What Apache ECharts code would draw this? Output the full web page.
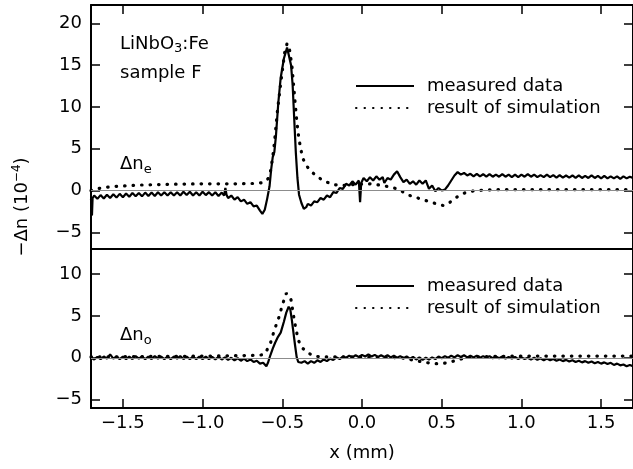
<!DOCTYPE html>
<html>
<head>
<meta charset="utf-8">
<script src="https://cdn.jsdelivr.net/npm/echarts@6/dist/echarts.min.js"></script>
<style>
  html, body { margin: 0; padding: 0; background: #fff; }
  #main { width: 633px; height: 469px; }
</style>
</head>
<body>
<div id="main"></div>
<script>
// tick positions
var xTicks = [-1.5, -1.0, -0.5, 0.0, 0.5, 1.0, 1.5];
var yTicksE = [-5, 0, 5, 10, 15, 20];
var yTicksO = [-5, 0, 5, 10];

// upper panel: delta n_e, measured [x (mm), -dn (1e-4)]
var measuredE = [
  [-1.700,-1.0],[-1.694,-3.0],[-1.690,-0.9],
  [-1.68,-0.6],[-1.66,-1.0],[-1.64,-0.55],[-1.62,-0.95],[-1.60,-0.5],[-1.58,-0.9],[-1.56,-0.45],[-1.54,-0.85],[-1.52,-0.4],[-1.50,-0.8],
  [-1.48,-0.35],[-1.46,-0.75],[-1.44,-0.3],[-1.42,-0.7],[-1.40,-0.3],[-1.38,-0.7],[-1.36,-0.25],[-1.34,-0.65],[-1.32,-0.25],[-1.30,-0.65],
  [-1.28,-0.2],[-1.26,-0.6],[-1.24,-0.2],[-1.22,-0.6],[-1.20,-0.2],[-1.18,-0.6],[-1.16,-0.2],[-1.14,-0.6],[-1.12,-0.15],[-1.10,-0.55],
  [-1.08,-0.15],[-1.06,-0.6],[-1.04,-0.2],[-1.02,-0.6],[-1.00,-0.15],[-0.98,-0.55],[-0.96,-0.2],[-0.94,-0.6],[-0.92,-0.2],[-0.90,-0.65],
  [-0.88,-0.25],[-0.865,-0.6],[-0.857,0.3],[-0.850,-0.5],[-0.84,-0.9],[-0.82,-0.6],[-0.80,-1.1],[-0.78,-0.8],[-0.76,-1.3],[-0.74,-1.1],
  [-0.72,-1.6],[-0.70,-1.4],[-0.68,-1.9],[-0.66,-1.8],[-0.64,-2.4],[-0.625,-2.8],[-0.61,-2.3],[-0.595,-1.0],[-0.58,0.5],[-0.57,2.5],
  [-0.56,4.0],[-0.55,4.6],[-0.54,6.5],[-0.525,10.5],[-0.51,13.5],[-0.49,15.8],[-0.47,17.1],[-0.46,17.0],[-0.445,15.0],[-0.435,12.6],
  [-0.425,8.5],[-0.415,4.5],[-0.405,1.5],[-0.395,-0.5],[-0.38,-1.5],[-0.365,-2.2],[-0.35,-2.0],[-0.34,-1.6],[-0.32,-1.8],[-0.30,-1.3],
  [-0.28,-1.4],[-0.26,-0.9],[-0.24,-1.1],[-0.22,-0.6],[-0.20,-0.8],[-0.18,-0.2],[-0.16,-0.3],[-0.14,0.3],[-0.12,0.2],[-0.10,0.8],
  [-0.08,0.6],[-0.06,1.1],[-0.04,0.7],[-0.02,1.2],[-0.012,-1.4],[-0.005,0.9],[0.01,1.5],[0.03,1.1],[0.05,1.6],[0.07,1.2],
  [0.09,1.7],[0.11,1.3],[0.13,1.6],[0.14,0.9],[0.16,1.5],[0.18,1.3],[0.20,1.9],[0.22,2.3],[0.24,1.6],[0.26,1.0],
  [0.28,1.3],[0.30,0.8],[0.32,1.1],[0.34,0.7],[0.36,1.2],[0.38,0.8],[0.40,1.2],[0.42,0.2],[0.44,0.6],[0.46,-0.1],
  [0.48,0.3],[0.50,0.0],[0.52,0.1],[0.54,0.6],[0.56,1.2],[0.58,1.8],[0.60,2.2],[0.62,1.9],[0.64,2.1],[0.66,1.8],
  [0.68,2.0],[0.70,1.7],[0.72,2.0],[0.74,1.7],[0.76,1.95],[0.78,1.65],[0.80,1.95],[0.82,1.65],[0.84,1.9],[0.86,1.65],
  [0.88,1.95],[0.90,1.65],[0.92,1.9],[0.94,1.6],[0.96,1.9],[0.98,1.6],[1.00,1.9],[1.02,1.65],[1.04,1.95],[1.06,1.65],
  [1.08,1.9],[1.10,1.6],[1.12,1.85],[1.14,1.6],[1.16,1.9],[1.18,1.6],[1.20,1.85],[1.22,1.55],[1.24,1.85],[1.26,1.55],
  [1.28,1.8],[1.30,1.55],[1.32,1.8],[1.34,1.5],[1.36,1.8],[1.38,1.5],[1.40,1.75],[1.42,1.5],[1.44,1.8],[1.46,1.5],
  [1.48,1.75],[1.50,1.45],[1.52,1.75],[1.54,1.45],[1.56,1.7],[1.58,1.45],[1.60,1.7],[1.62,1.4],[1.64,1.7],[1.66,1.45],
  [1.68,1.65],[1.70,1.5]
];

// upper panel: simulation
var simulationE = [
  [-1.70,0.0],[-1.65,0.25],[-1.60,0.4],[-1.50,0.55],[-1.40,0.65],[-1.30,0.7],[-1.20,0.75],[-1.00,0.8],[-0.80,0.8],[-0.66,0.85],
  [-0.62,0.95],[-0.59,1.4],[-0.575,2.2],[-0.56,4.0],[-0.55,5.6],[-0.53,9.6],[-0.51,12.8],[-0.50,14.3],[-0.485,16.5],[-0.47,17.6],
  [-0.455,16.9],[-0.44,15.0],[-0.43,12.8],[-0.42,10.6],[-0.41,8.5],[-0.40,6.8],[-0.385,5.0],[-0.37,3.8],[-0.35,3.0],[-0.325,2.4],
  [-0.29,1.8],[-0.26,1.4],[-0.22,1.0],[-0.18,0.7],[-0.12,0.6],[-0.03,0.75],[0.05,0.8],[0.13,0.6],[0.18,0.4],[0.22,0.2],
  [0.26,-0.2],[0.30,-0.6],[0.35,-0.9],[0.40,-1.2],[0.45,-1.5],[0.51,-1.8],[0.54,-1.6],[0.57,-1.1],[0.61,-0.6],[0.65,-0.25],
  [0.70,-0.05],[0.76,0.05],[0.85,0.1],[1.00,0.1],[1.30,0.1],[1.70,0.1]
];

// lower panel: delta n_o, measured
var measuredO = [
  [-1.70,0.0],[-1.68,-0.2],[-1.66,0.1],[-1.64,-0.15],[-1.62,0.15],[-1.60,-0.1],[-1.58,0.4],[-1.56,-0.1],[-1.54,0.15],[-1.52,-0.15],
  [-1.50,0.15],[-1.48,-0.15],[-1.46,0.15],[-1.44,-0.15],[-1.42,0.2],[-1.40,-0.1],[-1.38,0.15],[-1.36,-0.15],[-1.34,0.15],[-1.32,-0.15],
  [-1.30,0.2],[-1.28,-0.1],[-1.26,0.15],[-1.24,-0.15],[-1.22,0.15],[-1.20,-0.15],[-1.18,0.15],[-1.16,-0.1],[-1.14,0.2],[-1.12,-0.15],
  [-1.10,0.15],[-1.08,-0.15],[-1.06,0.15],[-1.04,-0.15],[-1.02,0.15],[-1.00,-0.15],[-0.98,0.15],[-0.96,-0.15],[-0.94,0.1],[-0.92,-0.2],
  [-0.90,0.1],[-0.88,-0.2],[-0.86,0.05],[-0.84,-0.25],[-0.82,0.0],[-0.80,-0.3],[-0.78,-0.05],[-0.76,-0.35],[-0.74,-0.1],[-0.72,-0.4],
  [-0.70,-0.2],[-0.68,-0.5],[-0.66,-0.35],[-0.64,-0.7],[-0.62,-0.6],[-0.60,-1.0],[-0.59,-0.6],[-0.575,0.3],[-0.56,1.1],[-0.545,1.8],
  [-0.53,2.4],[-0.51,3.0],[-0.49,4.3],[-0.475,5.4],[-0.46,6.1],[-0.45,5.8],[-0.44,4.5],[-0.43,3.0],[-0.42,1.5],[-0.41,0.1],
  [-0.40,-0.5],[-0.38,-0.6],[-0.36,-0.4],[-0.34,-0.7],[-0.32,-0.4],[-0.30,-0.6],[-0.28,-0.3],[-0.26,-0.5],[-0.24,-0.2],[-0.22,-0.4],
  [-0.20,-0.1],[-0.18,-0.25],[-0.16,0.05],[-0.14,-0.15],[-0.12,0.15],[-0.10,0.0],[-0.08,0.25],[-0.06,0.05],[-0.04,0.3],[-0.02,0.1],
  [0.00,0.35],[0.02,0.15],[0.04,0.4],[0.06,0.15],[0.08,0.35],[0.10,0.1],[0.12,0.3],[0.14,0.1],[0.16,0.3],[0.18,0.05],
  [0.20,0.25],[0.22,0.0],[0.24,0.2],[0.26,-0.05],[0.28,0.15],[0.30,-0.1],[0.32,0.1],[0.34,-0.2],[0.36,0.05],[0.38,-0.25],
  [0.40,0.0],[0.42,-0.2],[0.44,0.05],[0.46,-0.15],[0.48,0.15],[0.50,-0.05],[0.52,0.2],[0.54,0.0],[0.56,0.25],[0.58,0.05],
  [0.60,0.3],[0.62,0.1],[0.64,0.3],[0.66,0.05],[0.68,0.25],[0.70,0.05],[0.72,0.25],[0.74,0.0],[0.76,0.2],[0.78,0.0],
  [0.80,0.2],[0.82,-0.05],[0.84,0.15],[0.86,-0.05],[0.88,0.15],[0.90,-0.1],[0.92,0.1],[0.94,-0.1],[0.96,0.1],[0.98,-0.15],
  [1.00,0.05],[1.02,-0.15],[1.04,0.0],[1.06,-0.2],[1.08,0.0],[1.10,-0.25],[1.12,-0.05],[1.14,-0.3],[1.16,-0.1],[1.18,-0.3],
  [1.20,-0.15],[1.22,-0.35],[1.24,-0.2],[1.26,-0.4],[1.28,-0.25],[1.30,-0.45],[1.32,-0.3],[1.34,-0.5],[1.36,-0.35],[1.38,-0.55],
  [1.40,-0.4],[1.42,-0.6],[1.44,-0.45],[1.46,-0.65],[1.48,-0.5],[1.50,-0.7],[1.52,-0.55],[1.54,-0.75],[1.56,-0.6],[1.58,-0.85],
  [1.60,-0.7],[1.62,-0.9],[1.64,-0.8],[1.66,-1.0],[1.68,-0.85],[1.70,-1.0]
];

// lower panel: simulation
var simulationO = [
  [-1.70,0.1],[-1.40,0.15],[-1.00,0.2],[-0.80,0.25],[-0.66,0.3],[-0.62,0.35],[-0.60,0.8],[-0.575,1.7],[-0.55,3.3],[-0.52,4.9],
  [-0.50,6.3],[-0.475,7.7],[-0.455,7.4],[-0.445,6.9],[-0.425,4.5],[-0.40,2.1],[-0.37,1.1],[-0.34,0.6],[-0.30,0.2],[-0.25,0.1],
  [0.00,0.1],[0.25,0.0],[0.30,-0.2],[0.38,-0.5],[0.45,-0.7],[0.50,-0.7],[0.55,-0.55],[0.59,-0.3],[0.65,0.0],[0.75,0.15],
  [1.00,0.2],[1.70,0.2]
];

var FONT = 'DejaVu Sans';
function fmt (v) {
  var s = Math.abs(v).toFixed(1);
  return v < 0 ? '\u2212' + s : s;
}
function fmtInt (v) {
  return v < 0 ? '\u2212' + Math.abs(v) : String(v);
}

var myChart = echarts.init(document.getElementById('main'));

var lineBlack = {show: true, onZero: false, lineStyle: {color: '#000', width: 2}};
var tickIn = function (vals) {
  return {show: true, inside: true, length: 9, customValues: vals, lineStyle: {color: '#000', width: 1.5}};
};
// legend without the symbol circle on the line
var legendBase = {
  left: 350, orient: 'vertical', itemWidth: 58, itemHeight: 12, itemGap: 4, selectedMode: false,
  data: ['measured data', 'result of simulation'],
  itemStyle: {opacity: 0, borderWidth: 0},
  textStyle: {color: '#000', fontSize: 18, fontFamily: FONT, padding: [0, 0, 0, 8]}
};

var option = {
  backgroundColor: '#fff',
  animation: false,
  grid: [
    {left: 91, top: 5, width: 544, height: 244},
    {left: 91, top: 249, width: 544, height: 159}
  ],
  xAxis: [
    {gridIndex: 0, type: 'value', position: 'bottom', min: -1.7, max: 1.7,
      axisLine: lineBlack, axisTick: {show: false}, axisLabel: {show: false}, splitLine: {show: false}},
    {gridIndex: 0, type: 'value', position: 'top', min: -1.7, max: 1.7,
      axisLine: lineBlack, axisTick: tickIn(xTicks), axisLabel: {show: false}, splitLine: {show: false}},
    {gridIndex: 1, type: 'value', position: 'bottom', min: -1.7, max: 1.7,
      axisLine: lineBlack, axisTick: tickIn(xTicks),
      axisLabel: {customValues: xTicks, formatter: fmt, color: '#000', fontSize: 18, fontFamily: FONT, margin: 6},
      splitLine: {show: false},
      name: 'x (mm)', nameLocation: 'middle', nameGap: 36,
      nameTextStyle: {color: '#000', fontSize: 18, fontFamily: FONT}},
    {gridIndex: 1, type: 'value', position: 'top', min: -1.7, max: 1.7,
      axisLine: {show: false}, axisTick: {show: false}, axisLabel: {show: false}, splitLine: {show: false}}
  ],
  yAxis: [
    {gridIndex: 0, type: 'value', position: 'left', min: -7, max: 22.2,
      axisLine: lineBlack, axisTick: tickIn(yTicksE),
      axisLabel: {customValues: yTicksE, formatter: fmtInt, color: '#000', fontSize: 18, fontFamily: FONT, margin: 9},
      splitLine: {show: false}},
    {gridIndex: 0, type: 'value', position: 'right', min: -7, max: 22.2,
      axisLine: lineBlack, axisTick: tickIn(yTicksE), axisLabel: {show: false}, splitLine: {show: false}},
    {gridIndex: 1, type: 'value', position: 'left', min: -6, max: 13,
      axisLine: lineBlack, axisTick: tickIn(yTicksO),
      axisLabel: {customValues: yTicksO, formatter: fmtInt, color: '#000', fontSize: 18, fontFamily: FONT, margin: 9},
      splitLine: {show: false}},
    {gridIndex: 1, type: 'value', position: 'right', min: -6, max: 13,
      axisLine: lineBlack, axisTick: tickIn(yTicksO), axisLabel: {show: false}, splitLine: {show: false}}
  ],
  legend: [
    Object.assign({top: 72}, legendBase),
    Object.assign({top: 272}, legendBase)
  ],
  series: [
    {name: 'measured data', type: 'line', xAxisIndex: 0, yAxisIndex: 0, data: measuredE,
      symbol: 'none', lineStyle: {color: '#000', width: 2.2}, itemStyle: {color: '#000'},
      markLine: {silent: true, symbol: 'none', label: {show: false},
        lineStyle: {color: '#8c8c8c', width: 1, type: 'solid'}, data: [{yAxis: 0}]}},
    {name: 'result of simulation', type: 'line', xAxisIndex: 0, yAxisIndex: 0, data: simulationE,
      symbol: 'none', lineStyle: {color: '#000', width: 3.2, type: [0.5, 8], cap: 'round'}, itemStyle: {color: '#000'}},
    {name: 'measured data', type: 'line', xAxisIndex: 2, yAxisIndex: 2, data: measuredO,
      symbol: 'none', lineStyle: {color: '#000', width: 2.2}, itemStyle: {color: '#000'},
      markLine: {silent: true, symbol: 'none', label: {show: false},
        lineStyle: {color: '#8c8c8c', width: 1, type: 'solid'}, data: [{yAxis: 0}]}},
    {name: 'result of simulation', type: 'line', xAxisIndex: 2, yAxisIndex: 2, data: simulationO,
      symbol: 'none', lineStyle: {color: '#000', width: 3.2, type: [0.5, 8], cap: 'round'}, itemStyle: {color: '#000'}}
  ],
  graphic: [
    {type: 'text', left: 120, top: 35, style: {
      text: '{a|LiNbO}{s|3}{a|:Fe}',
      rich: {a: {fontSize: 18, fontFamily: FONT, fill: '#000'}, s: {fontSize: 13, fontFamily: FONT, fill: '#000', padding: [10, 0, 0, 0]}}}},
    {type: 'text', left: 120, top: 64, style: {text: 'sample F', fontSize: 18, fontFamily: FONT, fill: '#000'}},
    {type: 'text', left: 120, top: 155, style: {
      text: '{a|\u0394n}{s|e}',
      rich: {a: {fontSize: 18, fontFamily: FONT, fill: '#000'}, s: {fontSize: 13, fontFamily: FONT, fill: '#000', padding: [12, 0, 0, 0]}}}},
    {type: 'text', left: 120, top: 326, style: {
      text: '{a|\u0394n}{s|o}',
      rich: {a: {fontSize: 18, fontFamily: FONT, fill: '#000'}, s: {fontSize: 13, fontFamily: FONT, fill: '#000', padding: [12, 0, 0, 0]}}}},
    {type: 'text', x: 22, y: 207, rotation: Math.PI / 2, style: {
      text: '{a|\u2212\u0394n (10}{s|\u22124}{a|)}',
      align: 'center', verticalAlign: 'middle',
      rich: {a: {fontSize: 18, fontFamily: FONT, fill: '#000'}, s: {fontSize: 12, fontFamily: FONT, fill: '#000', padding: [0, 0, 10, 0]}}}}
  ]
};

myChart.setOption(option);
</script>
</body>
</html>
